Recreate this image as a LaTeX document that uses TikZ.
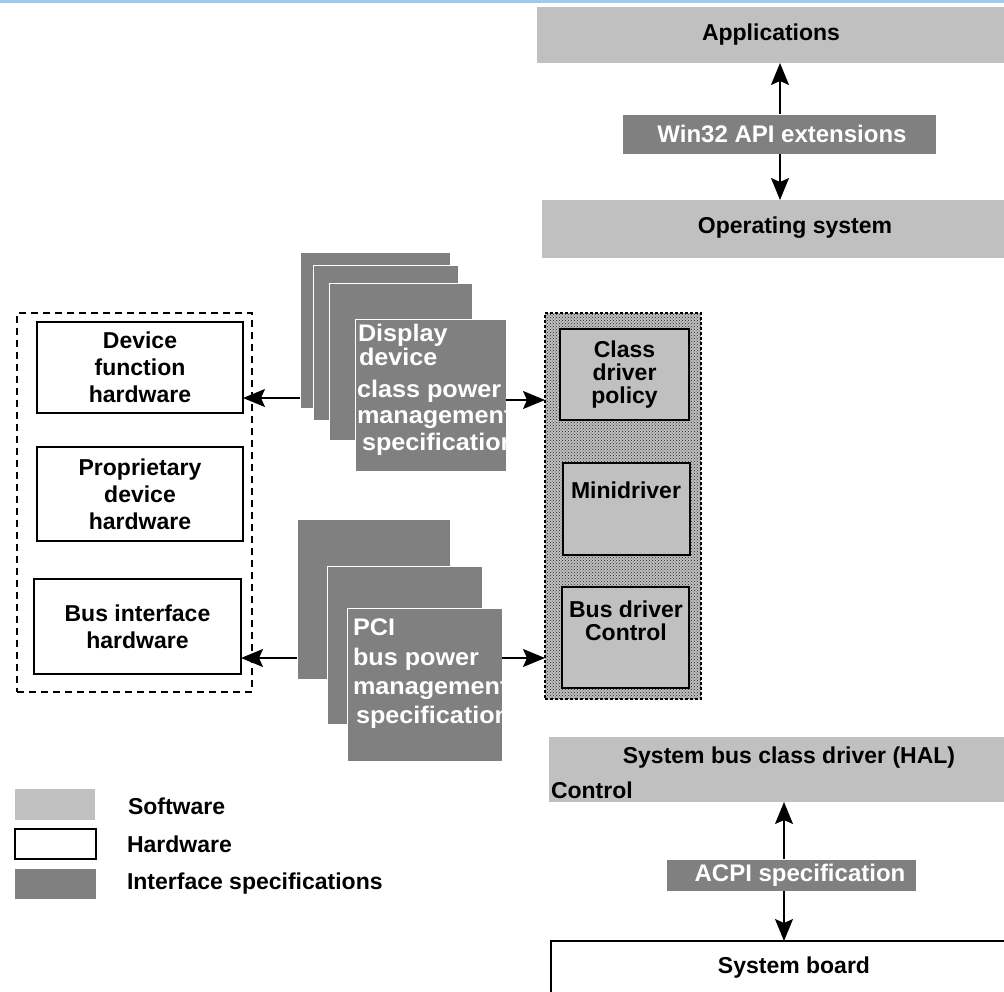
\documentclass[tikz,border=0pt]{standalone}
\usepackage{fontspec}
\setmainfont{Liberation Sans}
\newfontfamily\specfont{Liberation Sans}[FakeStretch=1.05]
\usetikzlibrary{arrows.meta,patterns,calc}
\definecolor{sw}{HTML}{C0C0C0}
\definecolor{ifc}{HTML}{808080}
\definecolor{topblue}{HTML}{A6C8E8}
\begin{document}
\begin{tikzpicture}[x=1pt,y=-1pt,
  every node/.style={inner sep=0pt, outer sep=0pt, font=\fontsize{23}{27}\selectfont\bfseries},
  swbox/.style={fill=sw, draw=none, anchor=north west},
  hwbox/.style={fill=white, draw=black, line width=1.6pt, anchor=north west},
  ifbox/.style={fill=ifc, draw=white, line width=1pt, anchor=north west},
  drvbox/.style={fill=sw, draw=black, line width=1.5pt, anchor=north west},
  wtext/.style={text=white, font=\fontsize{24}{24}\selectfont\bfseries},
  sptext/.style={text=white, anchor=base west, font=\specfont\fontsize{24}{24}\selectfont\bfseries},
  arr/.style={-{Stealth[length=22pt,width=18pt,inset=4pt]}, line width=1.5pt},
]
\clip (0,0) rectangle (1004,991);
\fill[white] (0,0) rectangle (1004,991);
\fill[topblue] (0,0) rectangle (1004,3);

% ---- top software stack
\node[swbox, minimum width=467, minimum height=56] (app) at (537,7) {};
\node (apptext) at (771,35) {Applications};
\node[ifbox, minimum width=314, minimum height=40] (w32) at (622,114) {};
\node[wtext] (w32text) at (782,134) {Win32 API extensions};
\node[swbox, minimum width=462, minimum height=58] (os) at (542,200) {};
\node (ostext) at (795,228) {Operating system};
\coordinate (ax1) at (780,0);
\draw[arr] (w32.north -| ax1) -- (app.south -| ax1);
\draw[arr] (w32.south -| ax1) -- (os.north -| ax1);

% ---- hardware group
\node[draw=black, line width=1.5pt, dash pattern=on 7pt off 5pt, minimum width=235, minimum height=379, anchor=north west] (hwgrp) at (17,313) {};
\node[hwbox, minimum width=206, minimum height=91, align=center] (dfh) at (37,322) {Device\\function\\hardware};
\node[hwbox, minimum width=206, minimum height=94, align=center] (pdh) at (37,447) {Proprietary\\device\\hardware};
\node[hwbox, minimum width=207, minimum height=95, align=center] (bih) at (34,579) {Bus interface\\hardware};

% ---- display spec stack
\node[ifbox, minimum width=150, minimum height=156] (d1) at (300,252) {};
\node[ifbox, minimum width=145, minimum height=155] (d2) at (313,265) {};
\node[ifbox, minimum width=143, minimum height=157] (d3) at (329,283) {};
\node[ifbox, minimum width=151, minimum height=152] (d4) at (355,319) {};
\begin{scope}
\clip (d4.north west) rectangle (d4.south east);
\node[sptext] (dt1) at (358,341) {Display};
\node[sptext] (dt2) at (359,365) {device};
\node[sptext] (dt3) at (357,397) {class power};
\node[sptext] (dt4) at (357,423) {management};
\node[sptext] (dt5) at (362,450) {specification};
\end{scope}

% ---- PCI spec stack
\node[ifbox, minimum width=153, minimum height=160] (p1) at (297,519) {};
\node[ifbox, minimum width=155, minimum height=158] (p2) at (327,566) {};
\node[ifbox, minimum width=155, minimum height=153] (p3) at (347,608) {};
\begin{scope}
\clip (p3.north west) rectangle (p3.south east);
\node[sptext] (pt1) at (353,635) {PCI};
\node[sptext] (pt2) at (353,665) {bus power};
\node[sptext] (pt3) at (353,694) {management};
\node[sptext] (pt4) at (356,723) {specification};
\end{scope}

% ---- driver group
\node[anchor=north west, minimum width=156, minimum height=386,
      preaction={fill=gray!50}, pattern=crosshatch dots, pattern color=black!85,
      draw=black, line width=1.5pt, dash pattern=on 3pt off 2pt] (drv) at (545,313) {};
\node[drvbox, minimum width=129, minimum height=91, font=\fontsize{23}{23}\selectfont\bfseries, align=center] (cdp) at (560,329) {Class\\driver\\policy};
\node[drvbox, minimum width=127, minimum height=92] (mini) at (563,463) {};
\node (minitext) at (626,490) {Minidriver};
\node[drvbox, minimum width=127, minimum height=101] (bdc) at (562,587) {};
\node[align=center, font=\fontsize{23}{23}\selectfont\bfseries] (bdctext) at (626,621) {Bus driver\\Control};

% ---- spec arrows
\coordinate (ya) at (0,398);
\coordinate (yb) at (0,400);
\coordinate (yc) at (0,658);
\draw[arr] (d1.west |- ya) -- (dfh.east |- ya);
\draw[arr] (d4.east |- yb) -- (drv.west |- yb);
\draw[arr] (p1.west |- yc) -- (bih.east |- yc);
\draw[arr] (p3.east |- yc) -- (drv.west |- yc);

% ---- bottom stack
\node[swbox, minimum width=455, minimum height=65] (sbc) at (549,737) {};
\node (sbctext) at (789,758) {System bus class driver (HAL)};
\node[anchor=west] (sbcctl) at (551,790) {Control};
\node[ifbox, minimum width=250, minimum height=32] (acpi) at (666,859) {};
\node[wtext] (acpitext) at (800,875) {ACPI specification};
\node[hwbox, minimum width=470, minimum height=80] (sb) at (551,941) {};
\node (sbtext) at (794,968) {System board};
\coordinate (ax2) at (784,0);
\draw[arr] (acpi.north -| ax2) -- (sbc.south -| ax2);
\draw[arr] (acpi.south -| ax2) -- (sb.north -| ax2);

% ---- legend
\node[swbox, minimum width=80, minimum height=31] (lsw) at (15,789) {};
\node[hwbox, line width=1.5pt, minimum width=81, minimum height=30] (lhw) at (15,829) {};
\node[fill=ifc, anchor=north west, minimum width=81, minimum height=30] (lif) at (15,869) {};
\node[anchor=west] (lswt) at (128,806) {Software};
\node[anchor=west] (lhwt) at (127,844) {Hardware};
\node[anchor=west] (lift) at (127,884) {Interface specifications};
\end{tikzpicture}
\end{document}
